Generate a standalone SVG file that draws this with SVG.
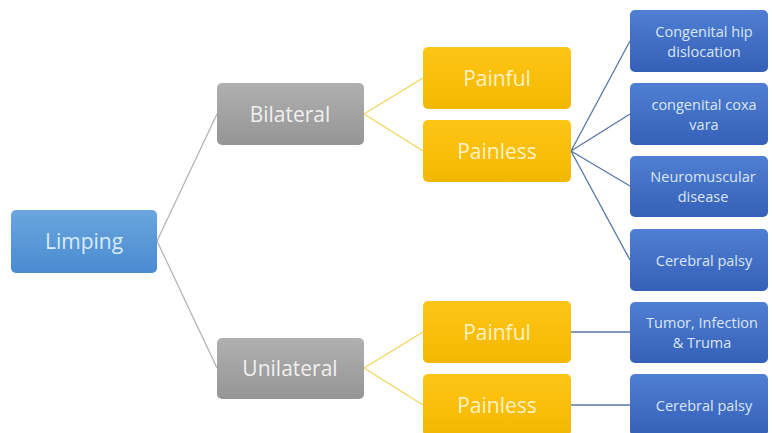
<svg xmlns="http://www.w3.org/2000/svg" width="772" height="433" viewBox="0 0 772 433">
<defs>
<linearGradient id="gBlue" x1="0" y1="0" x2="0" y2="1"><stop offset="0" stop-color="#6aa5de"/><stop offset="1" stop-color="#4a8bd0"/></linearGradient>
<linearGradient id="gGray" x1="0" y1="0" x2="0" y2="1"><stop offset="0" stop-color="#b0b0b0"/><stop offset="1" stop-color="#959595"/></linearGradient>
<linearGradient id="gGold" x1="0" y1="0" x2="0" y2="1"><stop offset="0" stop-color="#ffc516"/><stop offset="1" stop-color="#f2b800"/></linearGradient>
<linearGradient id="gDark" x1="0" y1="0" x2="0" y2="1"><stop offset="0" stop-color="#4f7fd2"/><stop offset="1" stop-color="#3560b8"/></linearGradient>
</defs>
<style>
text{font-family:"Open Sans","Liberation Sans",sans-serif;text-anchor:middle;dominant-baseline:central}
.root rect{fill:url(#gBlue)}
.root text{fill:#d9ecff;font-size:21px}
.l1 rect{fill:url(#gGray)}
.l1 text{fill:#f0f0f0;font-size:21px}
.l2 rect{fill:url(#gGold)}
.l2 text{fill:#fff2c4;font-size:21px}
.l3 rect{fill:url(#gDark)}
.l3 text{fill:#dbe6f7;font-size:14.5px}
.cg{stroke:#b4b4b4;stroke-width:1.3;fill:none}
.cy{stroke:#f2d45a;stroke-width:1.3;fill:none}
.cb{stroke:#5577a8;stroke-width:1.3;fill:none}
</style>
<rect width="772" height="433" fill="#ffffff"/>
<g id="connectors">
<path class="cg" d="M157 241L217 114M157 241L217 368"/>
<path class="cy" d="M364 114L423 78M364 114L423 151M364 368L423 332M364 368L423 405"/>
<path class="cb" d="M571 151L630 41M571 151L630 114M571 151L630 186M571 151L630 260M571 332L630 332M571 405L630 405"/>
</g>
<g id="limping" class="root"><rect x="11" y="210" width="146" height="63" rx="5"/><text x="84" y="241">Limping</text></g>
<g id="bilateral" class="l1"><rect x="217" y="83" width="147" height="62" rx="5"/><text x="290" y="114">Bilateral</text></g>
<g id="unilateral" class="l1"><rect x="217" y="338" width="147" height="61" rx="5"/><text x="290" y="368">Unilateral</text></g>
<g id="painful1" class="l2"><rect x="423" y="47" width="148" height="62" rx="5"/><text x="497" y="78">Painful</text></g>
<g id="painless1" class="l2"><rect x="423" y="120" width="148" height="62" rx="5"/><text x="497" y="151">Painless</text></g>
<g id="painful2" class="l2"><rect x="423" y="301" width="148" height="62" rx="5"/><text x="497" y="332">Painful</text></g>
<g id="painless2" class="l2"><rect x="423" y="374" width="148" height="62" rx="5"/><text x="497" y="405">Painless</text></g>
<g id="hip" class="l3"><rect x="630" y="10" width="138" height="62" rx="5"/><text x="704" y="31">Congenital hip</text><text x="704" y="51">dislocation</text></g>
<g id="coxa" class="l3"><rect x="630" y="83" width="138" height="62" rx="5"/><text x="704" y="104">congenital coxa</text><text x="704" y="124">vara</text></g>
<g id="neuro" class="l3"><rect x="630" y="156" width="138" height="61" rx="5"/><text x="703" y="176">Neuromuscular</text><text x="703" y="196">disease</text></g>
<g id="cp1" class="l3"><rect x="630" y="229" width="138" height="62" rx="5"/><text x="704" y="260">Cerebral palsy</text></g>
<g id="tumor" class="l3"><rect x="630" y="302" width="138" height="61" rx="5"/><text x="702" y="322">Tumor, Infection</text><text x="702" y="342">&amp; Truma</text></g>
<g id="cp2" class="l3"><rect x="630" y="374" width="138" height="62" rx="5"/><text x="704" y="405">Cerebral palsy</text></g>
</svg>
